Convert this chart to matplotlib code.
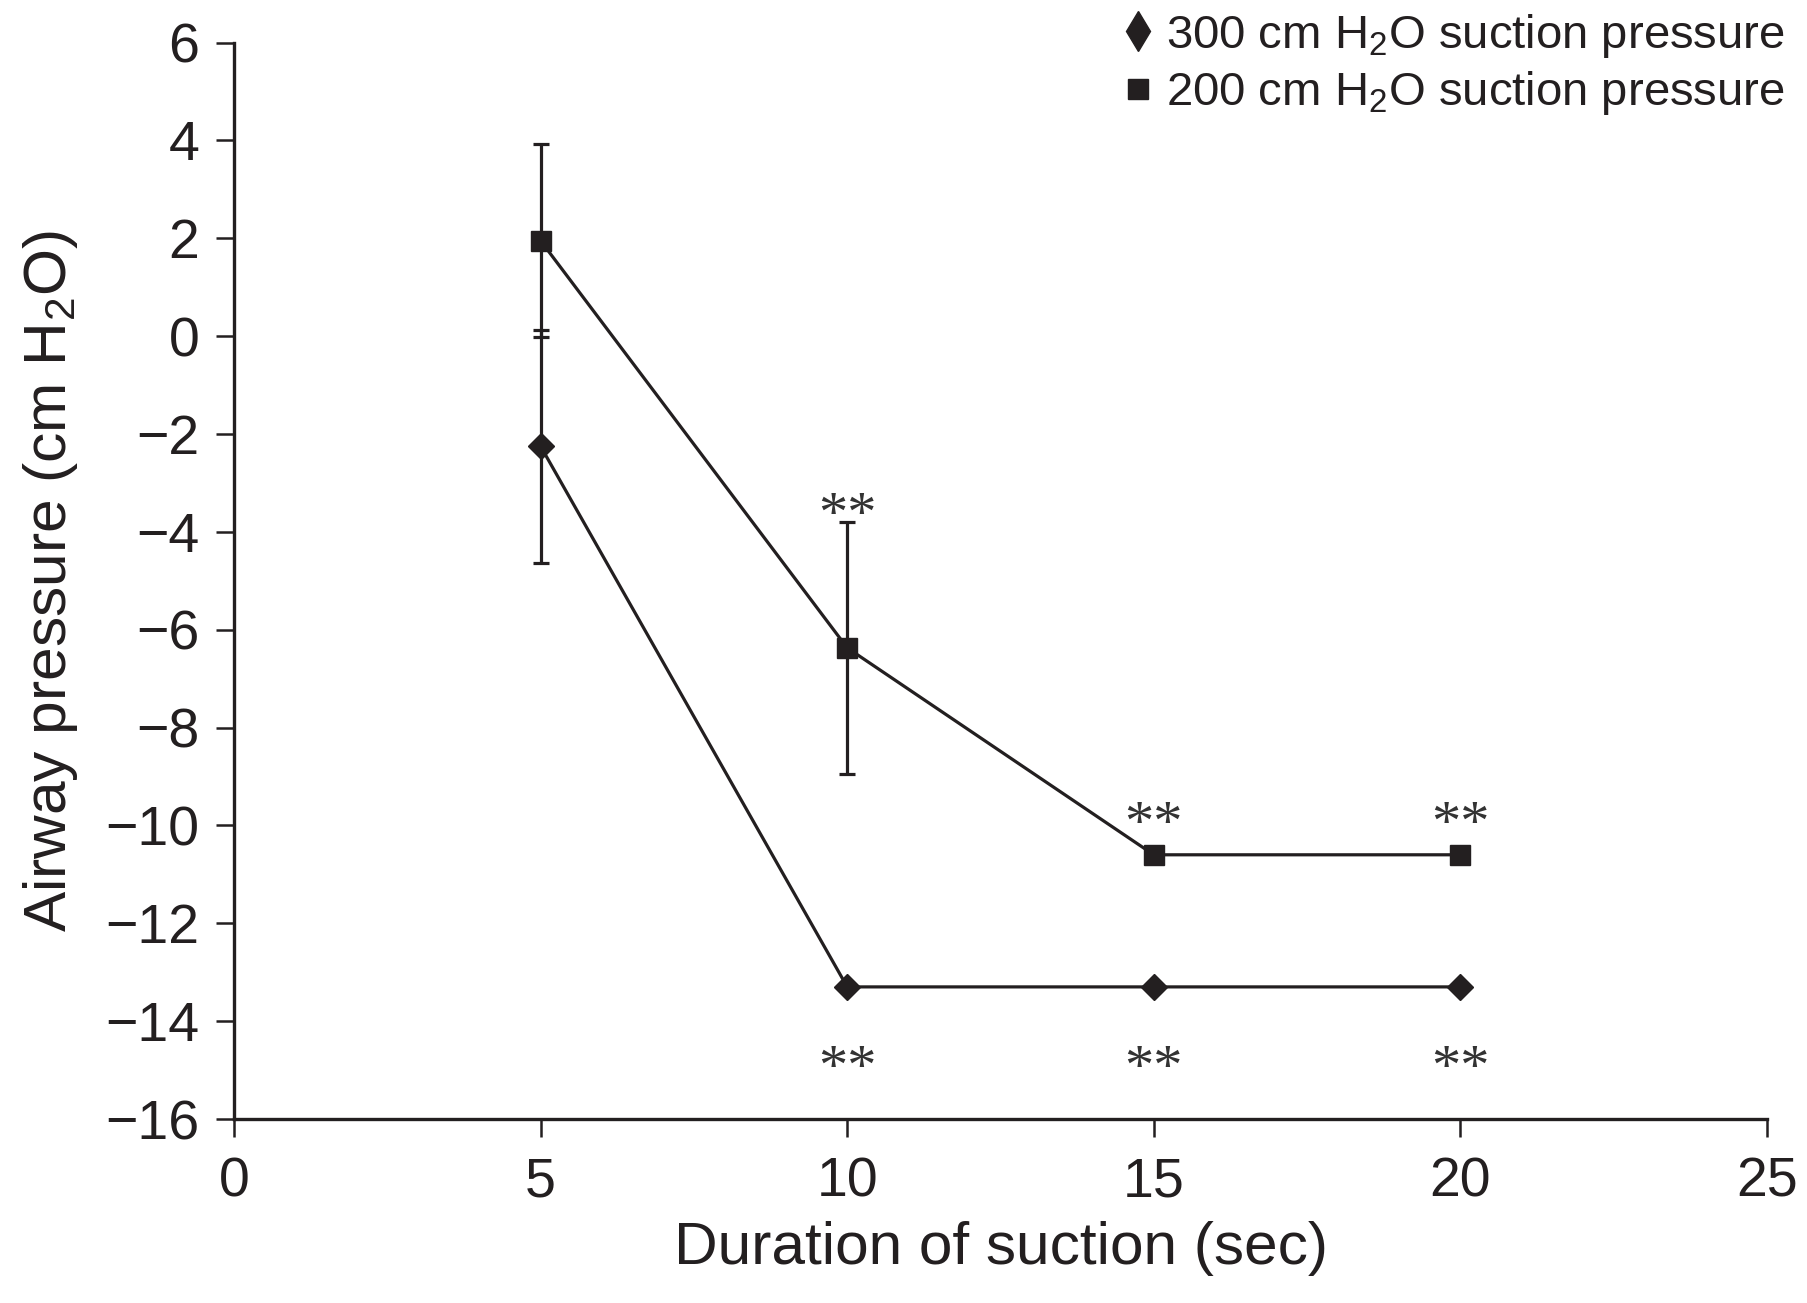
import matplotlib
matplotlib.use("Agg")
import matplotlib.pyplot as plt
from matplotlib.lines import Line2D

plt.rcParams['font.family'] = ['Liberation Sans', 'DejaVu Sans']
plt.rcParams['mathtext.fontset'] = 'custom'
plt.rcParams['mathtext.rm'] = 'Liberation Sans'
plt.rcParams['mathtext.it'] = 'Liberation Sans'

# Data
durations = [5, 10, 15, 20]
p300 = [-2.25, -13.3, -13.3, -13.3]
p300_err = [2.38, 0, 0, 0]
p200 = [1.95, -6.37, -10.6, -10.6]
p200_err = [1.97, 2.57, 0, 0]
sig300_show = [False, True, True, True]
sig200_show = [False, True, True, True]
label300 = r'300 cm H$_{\mathrm{2}}$O suction pressure'
label200 = r'200 cm H$_{\mathrm{2}}$O suction pressure'
xlabel = 'Duration of suction (sec)'
ylabel = r'Airway pressure (cm H$_{\mathrm{2}}$O)'
xticks = [0, 5, 10, 15, 20, 25]
yticks = [6, 4, 2, 0, -2, -4, -6, -8, -10, -12, -14, -16]

ink = '#231f20'

fig = plt.figure(figsize=(18.07, 13.03), dpi=100)
ax = fig.add_axes([234/1807, 1 - 1119/1303, (1767-234)/1807, (1119-42.6)/1303])

lw = 2.3
ax.errorbar(durations, p300, yerr=p300_err,
            fmt='-', marker='D', markersize=13.2, color=ink, lw=lw, elinewidth=lw,
            capsize=6, capthick=lw, zorder=3)
ax.errorbar(durations, p200, yerr=p200_err,
            fmt='-', marker='s', markersize=15, color=ink, lw=lw, elinewidth=lw,
            capsize=6, capthick=lw, zorder=3)

star_kw = dict(fontfamily='Liberation Serif', fontsize=42, color='#333333',
               ha='center', va='center', textcoords='offset points')
for x, y, e, show in zip(durations, p200, p200_err, sig200_show):
    if show:
        ax.annotate('**', (x, y + e), xytext=(0, 4 if e else 21), **star_kw)
for x, y, show in zip(durations, p300, sig300_show):
    if show:
        ax.annotate('**', (x, y), xytext=(0, -60), **star_kw)

ax.set_xlim(0, 25)
ax.set_ylim(-16, 6)
ax.set_xticks(xticks)
ax.set_yticks(yticks)
ax.set_yticklabels([str(t).replace('-', '\u2212') for t in yticks])
ax.spines['top'].set_visible(False)
ax.spines['right'].set_visible(False)
for s in ('left', 'bottom'):
    ax.spines[s].set_linewidth(2.4)
    ax.spines[s].set_color(ink)
ax.tick_params(axis='both', direction='out', length=13, width=1.8, color=ink,
               labelsize=40, labelcolor=ink)
ax.tick_params(axis='y', pad=12)
ax.tick_params(axis='x', pad=14)
ax.set_xlabel(xlabel, fontsize=43.5, color=ink, labelpad=9)
ax.set_ylabel(ylabel, fontsize=43.5, color=ink, labelpad=18)

handles = [Line2D([], [], marker='d', ls='none', color=ink, markersize=20),
           Line2D([], [], marker='s', ls='none', color=ink, markersize=14)]
fig.legend(handles, [label300, label200], loc='upper right',
           bbox_to_anchor=(1797/1807, 1.0), frameon=False, fontsize=34,
           handlelength=0.6, handletextpad=0.3, labelspacing=0.2,
           borderaxespad=0, borderpad=0.25, labelcolor=ink)

fig.savefig('out.png', dpi=100)
